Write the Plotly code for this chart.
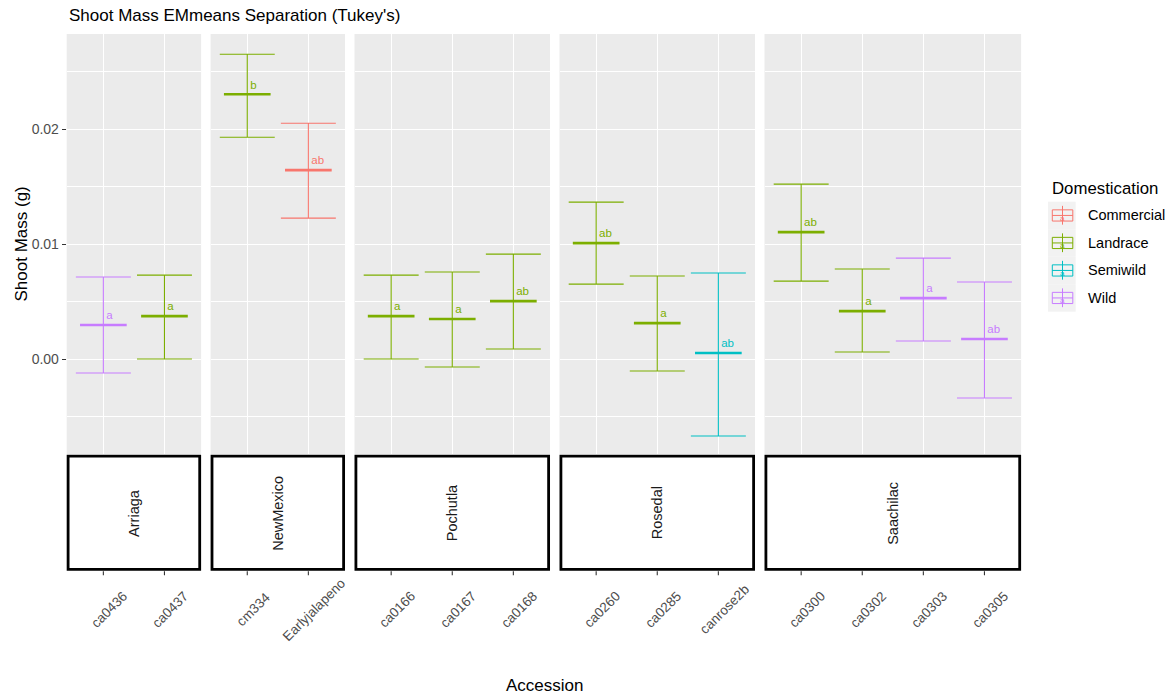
import plotly.graph_objects as go

# ---------------- data ----------------
facets = ["Arriaga", "NewMexico", "Pochutla", "Rosedal", "Saachilac"]
accession = ["ca0436", "ca0437", "cm334", "Earlyjalapeno", "ca0166", "ca0167", "ca0168",
             "ca0260", "ca0285", "canrose2b", "ca0300", "ca0302", "ca0303", "ca0305"]
location = ["Arriaga", "Arriaga", "NewMexico", "NewMexico", "Pochutla", "Pochutla", "Pochutla",
            "Rosedal", "Rosedal", "Rosedal", "Saachilac", "Saachilac", "Saachilac", "Saachilac"]
domestication = ["Wild", "Landrace", "Landrace", "Commercial", "Landrace", "Landrace", "Landrace",
                 "Landrace", "Landrace", "Semiwild", "Landrace", "Landrace", "Wild", "Wild"]
emmean = [0.00296, 0.00374, 0.02304, 0.01643, 0.00374, 0.00348, 0.00504,
          0.01009, 0.00313, 0.00052, 0.01104, 0.00417, 0.00530, 0.00174]
lower = [-0.00122, 0.00000, 0.01930, 0.01226, 0.00000, -0.00070, 0.00087,
         0.00652, -0.00104, -0.00670, 0.00678, 0.00061, 0.00157, -0.00339]
upper = [0.00713, 0.00730, 0.02652, 0.02052, 0.00730, 0.00757, 0.00913,
         0.01365, 0.00722, 0.00748, 0.01522, 0.00783, 0.00878, 0.00670]
letters = ["a", "a", "b", "ab", "a", "a", "ab", "ab", "a", "ab", "ab", "a", "a", "ab"]

dom_levels = ["Commercial", "Landrace", "Semiwild", "Wild"]
dom_colors = ["#F8766D", "#7CAE00", "#00BFC4", "#C77CFF"]
y_tickvals = [0.00, 0.01, 0.02]
y_ticktext = ["0.00", "0.01", "0.02"]
y_minor = [-0.005, 0.005, 0.015, 0.025]
y_range = [-0.008268, 0.028285]

# ---------------- geometry ----------------
W, H = 1169, 696
FONT = "Liberation Sans, Arial, sans-serif"


def fx(p):
    return p / W


def fy(p):
    return 1 - p / H


panel_left, panel_right, gap = 66.7, 1021.1, 9.5
panel_top, panel_bottom = 34.0, 454.0
strip_top, strip_bottom = 454.7, 570.7
counts = [location.count(f) for f in facets]
unit = (panel_right - panel_left - gap * (len(facets) - 1)) / sum(c + 0.2 for c in counts)
edges = []
xx = panel_left
for c in counts:
    w = (c + 0.2) * unit
    edges.append((xx, xx + w))
    xx += w + gap

color_of = dict(zip(dom_levels, dom_colors))
mean_len_px = 0.764 * unit      # crossbar length
cap_half_px = 0.45 * unit       # errorbar cap half-width

fig = go.Figure()
shapes = []
annotations = []
layout_axes = {}

for i, fac in enumerate(facets):
    ax = "x" if i == 0 else f"x{i + 1}"
    axname = "xaxis" if i == 0 else f"xaxis{i + 1}"
    cats = [a for a, l in zip(accession, location) if l == fac]
    n = len(cats)
    layout_axes[axname] = dict(
        domain=[fx(edges[i][0]), fx(edges[i][1])], anchor="y",
        type="category", categoryorder="array", categoryarray=cats,
        range=[-0.6, n - 0.4], showgrid=True, gridcolor="white", gridwidth=1.3,
        showticklabels=False, ticks="", zeroline=False, showline=False, fixedrange=True,
    )
    # panel background
    shapes.append(dict(type="rect", xref=f"{ax} domain", yref="y domain", x0=0, x1=1, y0=0, y1=1,
                       fillcolor="#EBEBEB", line=dict(width=0), layer="below"))
    # strip box
    lw = 2.8
    shapes.append(dict(type="rect", xref="paper", yref="paper",
                       x0=fx(edges[i][0] + lw / 2), x1=fx(edges[i][1] - lw / 2),
                       y0=fy(strip_top + lw / 2), y1=fy(strip_bottom - lw / 2),
                       fillcolor="white", line=dict(color="black", width=lw), layer="above"))
    annotations.append(dict(xref="paper", yref="paper", x=fx((edges[i][0] + edges[i][1]) / 2),
                            y=fy(513), text=fac, textangle=-90, showarrow=False,
                            font=dict(family=FONT, size=14.5, color="#1A1A1A"),
                            xanchor="center", yanchor="middle"))
    for a in cats:
        # tick mark under strip
        shapes.append(dict(type="line", xref=ax, yref="paper", x0=a, x1=a,
                           y0=fy(571.2), y1=fy(575.2), line=dict(color="#333333", width=1.1)))
        # tick label
        annotations.append(dict(xref=ax, yref="paper", x=a, y=fy(609.5), xshift=6,
                                text=a, textangle=-45, showarrow=False,
                                font=dict(family=FONT, size=13.5, color="#4D4D4D"),
                                xanchor="center", yanchor="middle"))

    for k, a in enumerate(accession):
        if location[k] != fac:
            continue
        col = color_of[domestication[k]]
        # error bar + letter
        fig.add_trace(go.Scatter(
            x=[a], y=[emmean[k]], xaxis=ax, yaxis="y", mode="markers+text",
            text=[letters[k]], textposition="top right",
            textfont=dict(family=FONT, size=11.5, color=col),
            marker=dict(size=3, color="rgba(0,0,0,0)"),
            error_y=dict(type="data", symmetric=False, array=[upper[k] - emmean[k]],
                         arrayminus=[emmean[k] - lower[k]], color=col, thickness=1.1,
                         width=cap_half_px),
            showlegend=False, hoverinfo="skip", cliponaxis=False,
        ))
        # mean (crossbar) line
        fig.add_trace(go.Scatter(
            x=[a], y=[emmean[k]], xaxis=ax, yaxis="y", mode="markers",
            marker=dict(symbol="line-ew", size=mean_len_px / 1.4,
                        line=dict(color=col, width=2.7), color=col),
            showlegend=False, hoverinfo="skip", cliponaxis=False,
        ))

# ---------------- text ----------------
annotations.append(dict(xref="paper", yref="paper", x=fx(66.7), y=fy(15.5), text="Shoot Mass EMmeans Separation (Tukey's)",
                        showarrow=False, xanchor="left", yanchor="middle",
                        font=dict(family=FONT, size=17, color="black")))
annotations.append(dict(xref="paper", yref="paper", x=fx(21), y=fy(244.5), text="Shoot Mass (g)",
                        textangle=-90, showarrow=False, xanchor="center", yanchor="middle",
                        font=dict(family=FONT, size=17, color="black")))
annotations.append(dict(xref="paper", yref="paper", x=fx(544.5), y=fy(685), text="Accession",
                        showarrow=False, xanchor="center", yanchor="middle",
                        font=dict(family=FONT, size=17, color="black")))

# ---------------- legend (drawn) ----------------
annotations.append(dict(xref="paper", yref="paper", x=fx(1050), y=fy(188), text="Domestication",
                        showarrow=False, xanchor="left", yanchor="middle",
                        font=dict(family=FONT, size=16.8, color="black")))
key_top, key_h = 201.7, 27.5
for j, (lev, col) in enumerate(zip(dom_levels, dom_colors)):
    t = key_top + j * key_h
    cy = t + key_h / 2
    shapes.append(dict(type="rect", xref="paper", yref="paper", x0=fx(1048), x1=fx(1075.7),
                       y0=fy(t), y1=fy(t + key_h), fillcolor="#F2F2F2", line=dict(width=0)))
    shapes.append(dict(type="rect", xref="paper", yref="paper", x0=fx(1052.3), x1=fx(1072.8),
                       y0=fy(cy - 5.6), y1=fy(cy + 5.6), line=dict(color=col, width=1)))
    shapes.append(dict(type="line", xref="paper", yref="paper", x0=fx(1052.3), x1=fx(1072.8),
                       y0=fy(cy), y1=fy(cy), line=dict(color=col, width=1)))
    shapes.append(dict(type="line", xref="paper", yref="paper", x0=fx(1062.5), x1=fx(1062.5),
                       y0=fy(cy - 9.6), y1=fy(cy + 9.2), line=dict(color=col, width=1)))
    annotations.append(dict(xref="paper", yref="paper", x=fx(1062.8), y=fy(cy + 2.8), text="a",
                            showarrow=False, xanchor="center", yanchor="middle",
                            font=dict(family=FONT, size=8, color=col)))
    annotations.append(dict(xref="paper", yref="paper", x=fx(1086), y=fy(cy), text=lev,
                            showarrow=False, xanchor="left", yanchor="middle",
                            font=dict(family=FONT, size=14.5, color="black")))

fig.update_layout(
    width=W, height=H, margin=dict(l=0, r=0, t=0, b=0),
    paper_bgcolor="white", plot_bgcolor="rgba(0,0,0,0)",
    showlegend=False, shapes=shapes, annotations=annotations,
    yaxis=dict(domain=[fy(panel_bottom), fy(panel_top)], range=y_range, anchor="x",
               tickmode="array", tickvals=y_tickvals, ticktext=y_ticktext,
               ticks="outside", ticklen=4, tickwidth=1.1, tickcolor="#333333",
               tickfont=dict(family=FONT, size=14, color="#4D4D4D"),
               showgrid=True, gridcolor="white", gridwidth=1.3, zeroline=False, showline=False,
               automargin=False, fixedrange=True,
               minor=dict(tickmode="array", tickvals=y_minor, showgrid=True, gridcolor="white",
                          gridwidth=0.7, ticks="")),
    **layout_axes,
)

fig.write_html("out.html")
